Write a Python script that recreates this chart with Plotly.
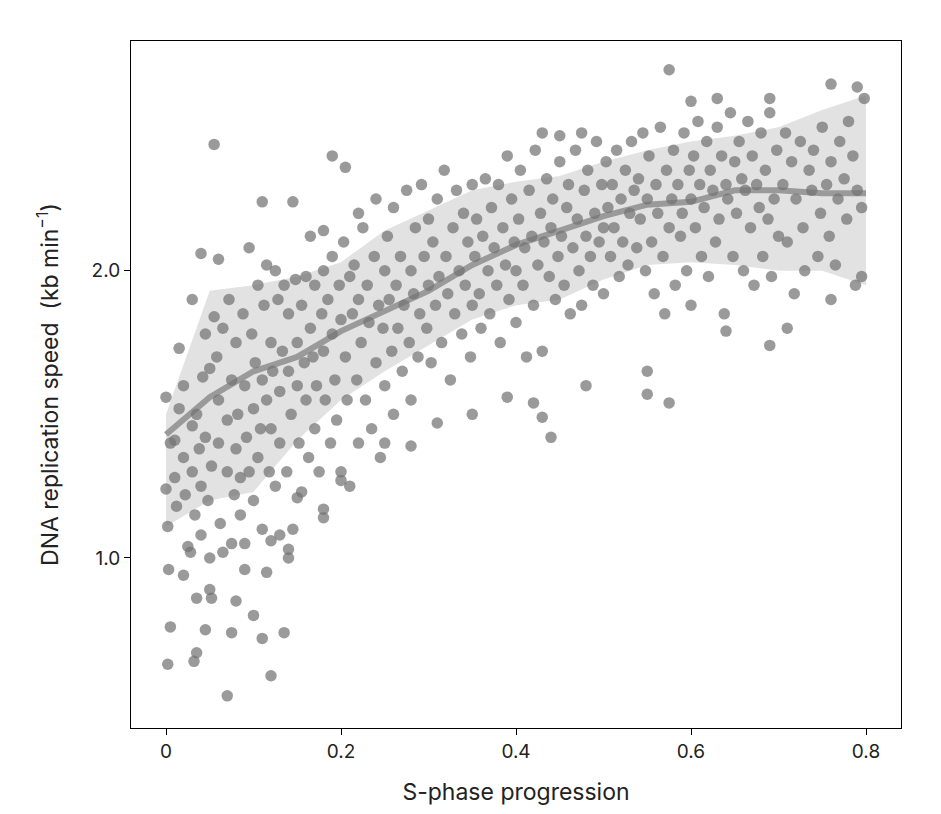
import plotly.graph_objects as go

# band / running mean
band_x = [0.0, 0.05, 0.1, 0.15, 0.2, 0.25, 0.3, 0.35, 0.4, 0.45, 0.5, 0.55, 0.6, 0.65, 0.7, 0.75, 0.8]
band_hi = [1.50, 1.93, 1.95, 1.98, 2.03, 2.14, 2.21, 2.28, 2.31, 2.33, 2.38, 2.42, 2.45, 2.47, 2.50, 2.56, 2.61]
band_lo = [1.11, 1.20, 1.23, 1.41, 1.55, 1.65, 1.74, 1.83, 1.88, 1.90, 1.97, 2.02, 2.03, 2.02, 2.00, 2.00, 1.95]
mean_y = [1.43, 1.56, 1.65, 1.70, 1.79, 1.86, 1.93, 2.02, 2.09, 2.14, 2.19, 2.23, 2.24, 2.28, 2.28, 2.27, 2.27]

points = [
    (0.0,1.56),(0.0,1.24),(0.002,1.11),(0.003,0.96),(0.005,0.76),(0.002,0.63),(0.015,1.73),(0.03,1.9),
    (0.04,2.06),(0.055,2.44),(0.06,2.04),(0.035,0.86),(0.035,0.67),(0.032,0.64),(0.045,0.75),(0.05,0.89),
    (0.052,0.86),(0.07,0.52),(0.075,0.74),(0.08,0.85),(0.1,0.8),(0.11,0.72),(0.12,0.59),(0.135,0.74),
    (0.115,0.95),(0.09,0.96),(0.11,2.24),(0.145,2.24),(0.19,2.40),(0.205,2.36),(0.165,2.12),(0.18,2.14),
    (0.22,2.2),(0.43,2.48),(0.45,2.47),(0.475,2.48),(0.575,2.70),(0.6,2.59),(0.63,2.6),(0.69,2.6),
    (0.76,2.65),(0.79,2.64),(0.795,1.98),(0.76,1.90),(0.69,1.74),(0.71,1.8),(0.64,1.79),(0.575,1.54),
    (0.55,1.65),(0.55,1.57),(0.48,1.6),(0.44,1.42),(0.43,1.49),(0.42,1.54),(0.39,1.56),(0.35,1.5),
    (0.31,1.47),(0.28,1.39),(0.25,1.4),(0.2,1.27),(0.18,1.14),(0.18,1.17),(0.15,1.21),(0.14,1.03),
    (0.14,1.0),(0.12,1.06),(0.13,1.08),
    (0.005,1.4),(0.01,1.41),(0.01,1.28),(0.012,1.18),(0.015,1.52),(0.02,1.6),(0.02,1.35),(0.022,1.22),
    (0.025,1.04),(0.028,1.02),(0.02,0.94),(0.03,1.46),(0.03,1.3),(0.033,1.15),(0.035,1.5),(0.038,1.38),
    (0.04,1.25),(0.04,1.08),(0.042,1.63),(0.045,1.78),(0.045,1.42),(0.048,1.2),(0.05,1.66),(0.05,1.0),
    (0.052,1.32),(0.055,1.84),(0.058,1.7),(0.06,1.55),(0.06,1.4),(0.062,1.12),(0.065,1.02),(0.065,1.8),
    (0.07,1.48),(0.07,1.3),(0.072,1.9),(0.075,1.62),(0.075,1.05),(0.078,1.22),(0.08,1.75),(0.08,1.38),
    (0.082,1.5),(0.085,1.15),(0.085,1.28),(0.088,1.85),(0.09,1.6),(0.09,1.05),(0.092,1.42),(0.095,2.08),
    (0.095,1.3),(0.098,1.78),(0.1,1.52),(0.1,1.2),(0.102,1.68),(0.105,1.95),(0.105,1.35),(0.108,1.45),
    (0.11,1.62),(0.11,1.1),(0.112,1.88),(0.115,2.02),(0.115,1.55),(0.118,1.3),(0.12,1.75),(0.12,1.45),
    (0.122,1.65),(0.125,2.0),(0.125,1.25),(0.128,1.9),(0.13,1.58),(0.13,1.4),(0.133,1.72),(0.135,1.95),
    (0.138,1.3),(0.14,1.65),(0.14,1.85),(0.143,1.5),(0.145,1.1),(0.148,1.97),(0.15,1.6),(0.15,1.75),
    (0.152,1.4),(0.155,1.88),(0.155,1.23),(0.158,1.68),(0.16,1.98),(0.16,1.55),(0.163,1.35),(0.165,1.8),
    (0.168,1.7),(0.17,1.95),(0.17,1.45),(0.172,1.6),(0.175,1.3),(0.178,1.85),(0.18,2.0),(0.18,1.72),
    (0.182,1.55),(0.185,1.9),(0.188,1.4),(0.19,1.78),(0.19,2.05),(0.193,1.62),(0.195,1.48),(0.198,1.95),
    (0.2,1.83),(0.2,1.3),(0.203,2.1),(0.205,1.7),(0.207,1.55),(0.21,1.98),(0.21,1.25),(0.213,1.85),
    (0.215,2.02),(0.218,1.62),(0.22,1.4),(0.22,1.9),(0.223,1.75),(0.225,2.15),(0.228,1.55),(0.23,1.95),
    (0.232,1.82),(0.235,1.45),(0.238,2.05),(0.24,1.68),(0.24,2.25),(0.243,1.88),(0.245,1.35),(0.248,1.8),
    (0.25,2.0),(0.25,1.6),(0.253,2.12),(0.255,1.9),(0.258,1.72),(0.26,2.22),(0.26,1.5),(0.263,1.95),
    (0.265,1.8),(0.268,2.05),(0.27,1.65),(0.272,1.88),(0.275,2.28),(0.278,1.75),(0.28,2.0),(0.28,1.55),
    (0.283,1.92),(0.285,2.15),(0.288,1.7),(0.29,1.85),(0.292,2.3),(0.295,2.05),(0.298,1.8),(0.3,1.95),
    (0.3,2.18),(0.303,1.68),(0.305,2.1),(0.308,1.88),(0.31,2.25),(0.312,1.98),(0.315,1.75),(0.318,2.35),
    (0.32,2.05),(0.322,1.92),(0.325,1.62),(0.328,2.15),(0.33,1.85),(0.332,2.28),(0.335,2.0),(0.338,1.78),
    (0.34,2.2),(0.342,1.95),(0.345,2.1),(0.348,1.7),(0.35,2.3),(0.35,1.88),(0.353,2.05),(0.355,2.18),
    (0.358,1.92),(0.36,1.8),(0.362,2.12),(0.365,2.32),(0.368,2.0),(0.37,1.85),(0.372,2.22),(0.375,2.08),
    (0.378,1.95),(0.38,2.3),(0.382,1.75),(0.385,2.15),(0.388,2.02),(0.39,2.4),(0.392,1.9),(0.395,2.25),
    (0.398,2.1),(0.4,1.82),(0.4,2.0),(0.403,2.18),(0.405,2.35),(0.408,1.95),(0.41,2.08),(0.412,1.7),
    (0.415,2.28),(0.418,2.12),(0.42,1.88),(0.422,2.42),(0.425,2.02),(0.428,2.2),(0.43,1.72),(0.432,2.1),
    (0.435,2.32),(0.438,1.98),(0.44,2.15),(0.442,2.25),(0.445,1.9),(0.448,2.05),(0.45,2.38),(0.452,2.12),
    (0.455,1.95),(0.458,2.22),(0.46,2.3),(0.462,1.85),(0.465,2.08),(0.468,2.42),(0.47,2.18),(0.472,2.0),
    (0.475,1.88),(0.478,2.28),(0.48,2.12),(0.482,2.35),(0.485,2.05),(0.488,1.95),(0.49,2.2),(0.492,2.45),
    (0.495,2.1),(0.498,2.3),(0.5,1.92),(0.5,2.15),(0.503,2.38),(0.505,2.22),(0.508,2.05),(0.51,2.3),
    (0.512,2.15),(0.515,2.42),(0.518,1.98),(0.52,2.25),(0.522,2.1),(0.525,2.35),(0.528,2.02),(0.53,2.2),
    (0.532,2.45),(0.535,2.28),(0.538,2.08),(0.54,2.32),(0.542,2.18),(0.545,2.48),(0.548,2.0),(0.55,2.25),
    (0.552,2.4),(0.555,2.1),(0.558,1.92),(0.56,2.3),(0.562,2.2),(0.565,2.5),(0.568,2.05),(0.57,1.85),
    (0.572,2.35),(0.575,2.15),(0.578,2.25),(0.58,2.42),(0.582,1.95),(0.585,2.3),(0.588,2.12),(0.59,2.2),
    (0.592,2.48),(0.595,2.0),(0.598,2.35),(0.6,2.25),(0.6,1.88),(0.603,2.4),(0.605,2.15),(0.608,2.52),
    (0.61,2.3),(0.612,2.05),(0.615,2.22),(0.618,2.45),(0.62,1.98),(0.622,2.35),(0.625,2.28),(0.628,2.1),
    (0.63,2.5),(0.632,2.18),(0.635,2.4),(0.638,1.85),(0.64,2.3),(0.642,2.25),(0.645,2.55),(0.648,2.05),
    (0.65,2.38),(0.652,2.2),(0.655,2.45),(0.658,2.32),(0.66,2.0),(0.662,2.28),(0.665,2.52),(0.668,2.15),
    (0.67,2.4),(0.672,1.95),(0.675,2.3),(0.678,2.22),(0.68,2.48),(0.682,2.05),(0.685,2.35),(0.688,2.18),
    (0.69,2.55),(0.692,1.98),(0.695,2.25),(0.698,2.42),(0.7,2.12),(0.705,2.3),(0.708,2.48),(0.71,2.1),
    (0.715,2.38),(0.718,1.92),(0.72,2.25),(0.725,2.45),(0.728,2.15),(0.73,2.0),(0.735,2.35),(0.738,2.28),
    (0.74,2.42),(0.745,2.05),(0.748,2.2),(0.75,2.5),(0.755,2.3),(0.758,2.12),(0.76,2.38),(0.765,2.02),
    (0.768,2.25),(0.77,2.45),(0.775,2.32),(0.778,2.18),(0.78,2.52),(0.785,2.4),(0.788,1.95),(0.79,2.28),
    (0.795,2.22),(0.798,2.6),
]
pt_x = [p[0] for p in points]
pt_y = [p[1] for p in points]

fig = go.Figure()
fig.add_trace(go.Scatter(x=band_x + band_x[::-1], y=band_hi + band_lo[::-1], fill='toself',
                         fillcolor='#e2e2e2', line=dict(width=0), mode='lines', hoverinfo='skip'))
fig.add_trace(go.Scatter(x=band_x, y=mean_y, mode='lines', line=dict(color='#9a9a9a', width=6)))
fig.add_trace(go.Scatter(x=pt_x, y=pt_y, mode='markers',
                         marker=dict(color='rgba(115,115,115,0.72)', size=11.5, line=dict(width=0))))

axis = dict(showline=True, linecolor='black', linewidth=1, mirror=True, ticks='outside',
            ticklen=6, tickcolor='black', showgrid=False, zeroline=False, automargin=False,
            tickfont=dict(size=19, color='#222'))
fig.update_layout(
    width=941, height=814, showlegend=False,
    plot_bgcolor='white', paper_bgcolor='white',
    margin=dict(l=123, r=48, t=33, b=94),
    font=dict(family='Inter, Noto Sans, sans-serif', color='#222'),
    xaxis=dict(axis, range=[-0.04, 0.84], tickvals=[0, 0.2, 0.4, 0.6, 0.8],
               ticktext=['0', '0.2', '0.4', '0.6', '0.8'],
               title=dict(text='S-phase progression', font=dict(size=23), standoff=22)),
    yaxis=dict(axis, range=[0.408, 2.80], tickvals=[1.0, 2.0], ticktext=['1.0', '2.0'],
               title=dict(text='DNA replication speed  (kb min<sup>−1</sup>)', font=dict(size=23), standoff=26)),
)
fig.write_html('out.html')
